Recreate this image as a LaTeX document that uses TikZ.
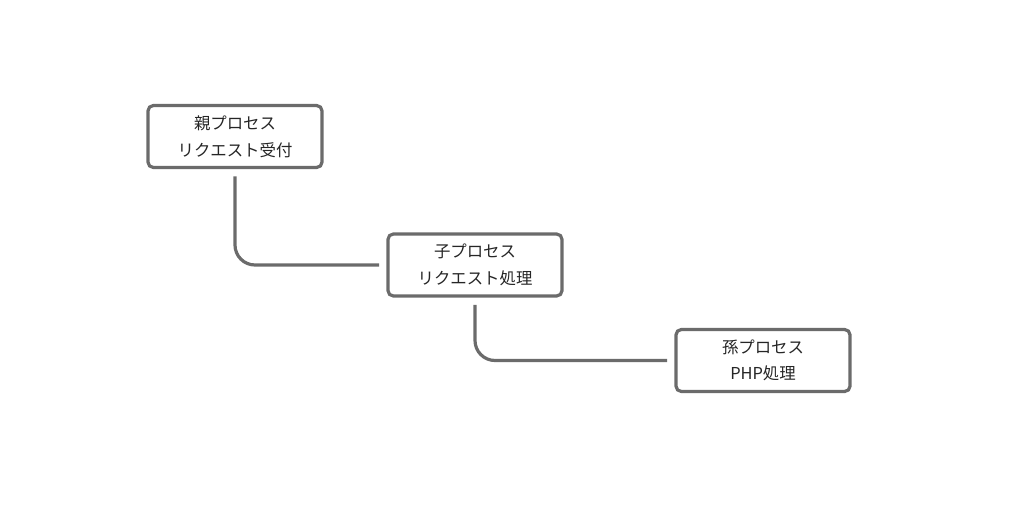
\documentclass[tikz,border=0pt]{standalone}
\usepackage{fontspec}
\setmainfont{Noto Sans CJK JP}
\begin{document}
\begin{tikzpicture}[x=0.75pt,y=-0.75pt,
  box/.style={draw=linegray, line width=2.4pt, rounded corners=4pt, fill=white,
    minimum width=174*0.75pt, minimum height=62*0.75pt, inner sep=0pt,
    align=center, font=\fontsize{12.3pt}{20pt}\selectfont, text=black!85},
  conn/.style={draw=linegray, line width=2.4pt, rounded corners=15pt}]
\definecolor{linegray}{HTML}{6B6B6B}
\useasboundingbox (0,0) rectangle (1016,514);
\node[box] (b1) at (235,136.5) {親プロセス\\リクエスト受付};
\node[box] (b2) at (475,265) {子プロセス\\リクエスト処理};
\node[box] (b3) at (763,360.5) {孫プロセス\\PHP処理};
\draw[conn] ([yshift=-5.5pt]b1.south) |- ([xshift=-5.5pt]b2.west);
\draw[conn] ([yshift=-5.5pt]b2.south) |- ([xshift=-5.5pt]b3.west);
\end{tikzpicture}
\end{document}
